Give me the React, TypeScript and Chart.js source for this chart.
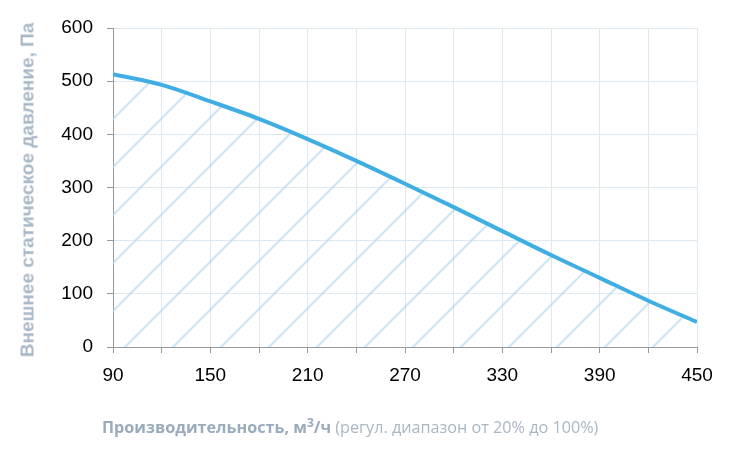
import React, { useEffect, useRef } from 'react';
import { Chart, registerables } from 'chart.js';

Chart.register(...registerables);

// Air flow, m3/h
const FLOW = [90, 120, 150, 180, 210, 240, 270, 300, 330, 360, 390, 420, 450];
// External static pressure, Pa
const PRESSURE = [513, 493, 462, 429, 391, 350, 307, 263, 218, 173, 130, 87, 47];

const X_MIN = 90;
const X_MAX = 450;
const X_STEP = 30;
const Y_MIN = 0;
const Y_MAX = 600;
const Y_STEP = 100;

const Y_TITLE = 'Внешнее статическое давление, Па';
const X_TITLE_BOLD = 'Производительность, м';
const X_TITLE_UNIT = '/ч';
const X_TITLE_NOTE = ' (регул. диапазон от 20% до 100%)';

function makeHatch(): CanvasPattern | string {
  const size = 48;
  const c = document.createElement('canvas');
  c.width = size;
  c.height = size;
  const ctx = c.getContext('2d');
  if (!ctx) return 'rgba(190,220,240,0.4)';
  ctx.strokeStyle = 'rgba(180, 215, 238, 0.65)';
  ctx.lineWidth = 2.2;
  // lines x + y = k, k = 40 (mod 48)
  for (const k of [-8, 40, 88]) {
    ctx.beginPath();
    ctx.moveTo(k + 10, -10);
    ctx.lineTo(k - 58, 58);
    ctx.stroke();
  }
  return ctx.createPattern(c, 'repeat') || 'rgba(190,220,240,0.4)';
}

const PressureChart: React.FC = () => {
  const chartRef = useRef<HTMLCanvasElement>(null);
  const chartInstance = useRef<Chart | null>(null);

  useEffect(() => {
    if (chartInstance.current) {
      chartInstance.current.destroy();
    }
    if (chartRef.current) {
      const ctx = chartRef.current.getContext('2d');
      if (ctx) {
        chartInstance.current = new Chart(ctx, {
          type: 'line',
          data: {
            datasets: [
              {
                data: FLOW.map((x, i) => ({ x, y: PRESSURE[i] })),
                borderColor: '#41aee3',
                borderWidth: 4,
                backgroundColor: makeHatch(),
                fill: 'origin',
                pointRadius: 0,
                cubicInterpolationMode: 'monotone',
              },
            ],
          },
          options: {
            responsive: true,
            maintainAspectRatio: false,
            animation: false,
            layout: { padding: { top: 28, left: 0, right: 35, bottom: 60 } },
            plugins: {
              legend: { display: false },
              tooltip: { enabled: false },
            },
            scales: {
              x: {
                type: 'linear',
                min: X_MIN,
                max: X_MAX,
                afterFit: (scale) => {
                  scale.height = 60;
                },
                ticks: {
                  stepSize: X_STEP,
                  autoSkip: false,
                  maxRotation: 0,
                  padding: 11,
                  color: '#000',
                  font: { family: 'Liberation Sans, Arial', size: 19 },
                  callback: (v) => ((Number(v) - X_MIN) % 60 === 0 ? String(v) : ''),
                },
                grid: {
                  color: '#dde8f1',
                  tickColor: '#999',
                  tickLength: 6,
                },
                border: { color: '#999', width: 1 },
              },
              y: {
                min: Y_MIN,
                max: Y_MAX,
                afterFit: (scale) => {
                  scale.width = 113;
                },
                ticks: {
                  stepSize: Y_STEP,
                  padding: 14,
                  color: '#000',
                  font: { family: 'Liberation Sans, Arial', size: 19 },
                },
                grid: {
                  color: '#dde8f1',
                  tickColor: '#999',
                  tickLength: 6,
                },
                border: { color: '#999', width: 1 },
              },
            },
          },
        });
      }
    }
    return () => {
      if (chartInstance.current) {
        chartInstance.current.destroy();
        chartInstance.current = null;
      }
    };
  }, []);

  return (
    <div style={{ position: 'absolute', left: 0, top: 0, width: 732, height: 467, background: '#fff' }}>
      <canvas ref={chartRef}></canvas>
      <div
        style={{
          position: 'absolute',
          left: 27,
          top: 190,
          transform: 'translate(-50%, -50%) rotate(-90deg)',
          whiteSpace: 'nowrap',
          fontFamily: 'Liberation Sans, Arial, sans-serif',
          fontWeight: 'bold',
          fontSize: 19,
          color: '#a8b7c7',
          lineHeight: 1,
        }}
      >
        {Y_TITLE}
      </div>
      <div
        style={{
          position: 'absolute',
          left: 102,
          top: 416,
          whiteSpace: 'nowrap',
          fontFamily: 'Open Sans, sans-serif',
          fontSize: 16.2,
          lineHeight: '22px',
          color: '#a9b6c3',
        }}
      >
        <span style={{ fontWeight: 'bold', color: '#9aabbc' }}>
          {X_TITLE_BOLD}
          <sup style={{ fontSize: 12, lineHeight: 0 }}>3</sup>
          {X_TITLE_UNIT}
        </span>
        {X_TITLE_NOTE}
      </div>
    </div>
  );
};

export default function App() {
  return <PressureChart />;
}
